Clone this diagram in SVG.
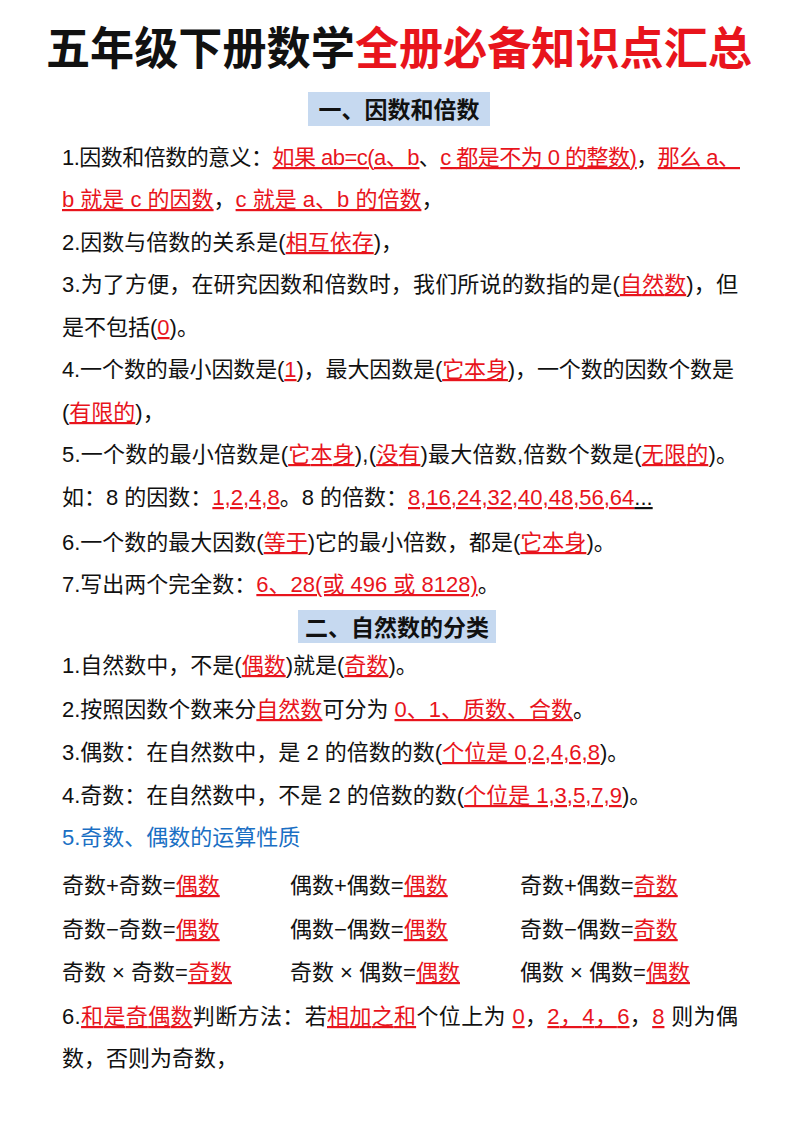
<svg xmlns="http://www.w3.org/2000/svg" width="800" height="1132" viewBox="0 0 800 1132">
<style>
text{font-family:"Liberation Sans","Noto Sans CJK SC",sans-serif;font-size:22px;fill:#111}
.r{fill:#e8141c;text-decoration:underline}
.h{font-size:23px;font-weight:bold;fill:#111}
.t{font-size:45px;font-weight:bold}
.b{fill:#1a6fc4}
</style>
<rect width="800" height="1132" fill="#fff"/>
<g id="title"><text x="46" y="65" class="t" textLength="706" lengthAdjust="spacingAndGlyphs">五年级下册数学<tspan fill="#e8141c">全册必备知识点汇总</tspan></text></g>
<g id="h1"><rect x="308" y="92" width="182" height="34" fill="#c6d9f0"/><text x="399" y="118" class="h" text-anchor="middle">一、因数和倍数</text></g>
<g id="s1">
<text x="62" y="165" textLength="678" lengthAdjust="spacing">1.因数和倍数的意义：<tspan class="r">如果 ab=c(a、b</tspan>、<tspan class="r">c 都是不为 0 的整数)</tspan>，<tspan class="r">那么 a、</tspan></text>
<text x="62" y="207"><tspan class="r">b 就是 c 的因数</tspan>，<tspan class="r">c 就是 a、b 的倍数</tspan>，</text>
<text x="62" y="250">2.因数与倍数的关系是(<tspan class="r">相互依存</tspan>)，</text>
<text x="62" y="292" textLength="676" lengthAdjust="spacing">3.为了方便，在研究因数和倍数时，我们所说的数指的是(<tspan class="r">自然数</tspan>)，但</text>
<text x="62" y="335">是不包括(<tspan class="r">0</tspan>)。</text>
<text x="62" y="377" textLength="672" lengthAdjust="spacing">4.一个数的最小因数是(<tspan class="r">1</tspan>)，最大因数是(<tspan class="r">它本身</tspan>)，一个数的因数个数是</text>
<text x="62" y="420">(<tspan class="r">有限的</tspan>)，</text>
<text x="62" y="462" textLength="676" lengthAdjust="spacing">5.一个数的最小倍数是(<tspan class="r">它本身</tspan>),(<tspan class="r">没有</tspan>)最大倍数,倍数个数是(<tspan class="r">无限的</tspan>)。</text>
<text x="62" y="505">如：8 的因数：<tspan class="r">1,2,4,8</tspan>。8 的倍数：<tspan class="r">8,16,24,32,40,48,56,64</tspan><tspan text-decoration="underline">...</tspan></text>
<text x="62" y="550">6.一个数的最大因数(<tspan class="r">等于</tspan>)它的最小倍数，都是(<tspan class="r">它本身</tspan>)。</text>
<text x="62" y="592">7.写出两个完全数：<tspan class="r">6、28(或 496 或 8128)</tspan>。</text>
</g>
<g id="h2"><rect x="298" y="610" width="198" height="33" fill="#c6d9f0"/><text x="397" y="636" class="h" text-anchor="middle">二、自然数的分类</text></g>
<g id="s2">
<text x="62" y="673">1.自然数中，不是(<tspan class="r">偶数</tspan>)就是(<tspan class="r">奇数</tspan>)。</text>
<text x="62" y="717">2.按照因数个数来分<tspan class="r">自然数</tspan>可分为 <tspan class="r">0、1、质数、合数</tspan>。</text>
<text x="62" y="760">3.偶数：在自然数中，是 2 的倍数的数(<tspan class="r">个位是 0,2,4,6,8</tspan>)。</text>
<text x="62" y="803">4.奇数：在自然数中，不是 2 的倍数的数(<tspan class="r">个位是 1,3,5,7,9</tspan>)。</text>
<text x="62" y="845" class="b">5.奇数、偶数的运算性质</text>
<text x="62" y="893">奇数+奇数=<tspan class="r">偶数</tspan></text>
<text x="290" y="893">偶数+偶数=<tspan class="r">偶数</tspan></text>
<text x="520" y="893">奇数+偶数=<tspan class="r">奇数</tspan></text>
<text x="62" y="937">奇数−奇数=<tspan class="r">偶数</tspan></text>
<text x="290" y="937">偶数−偶数=<tspan class="r">偶数</tspan></text>
<text x="520" y="937">奇数−偶数=<tspan class="r">奇数</tspan></text>
<text x="62" y="980">奇数 × 奇数=<tspan class="r">奇数</tspan></text>
<text x="290" y="980">奇数 × 偶数=<tspan class="r">偶数</tspan></text>
<text x="520" y="980">偶数 × 偶数=<tspan class="r">偶数</tspan></text>
<text x="62" y="1024" textLength="676" lengthAdjust="spacing">6.<tspan class="r">和是奇偶数</tspan>判断方法：若<tspan class="r">相加之和</tspan>个位上为 <tspan class="r">0</tspan>，<tspan class="r">2，4，6</tspan>，<tspan class="r">8</tspan> 则为偶</text>
<text x="62" y="1066">数，否则为奇数，</text>
</g>
</svg>
